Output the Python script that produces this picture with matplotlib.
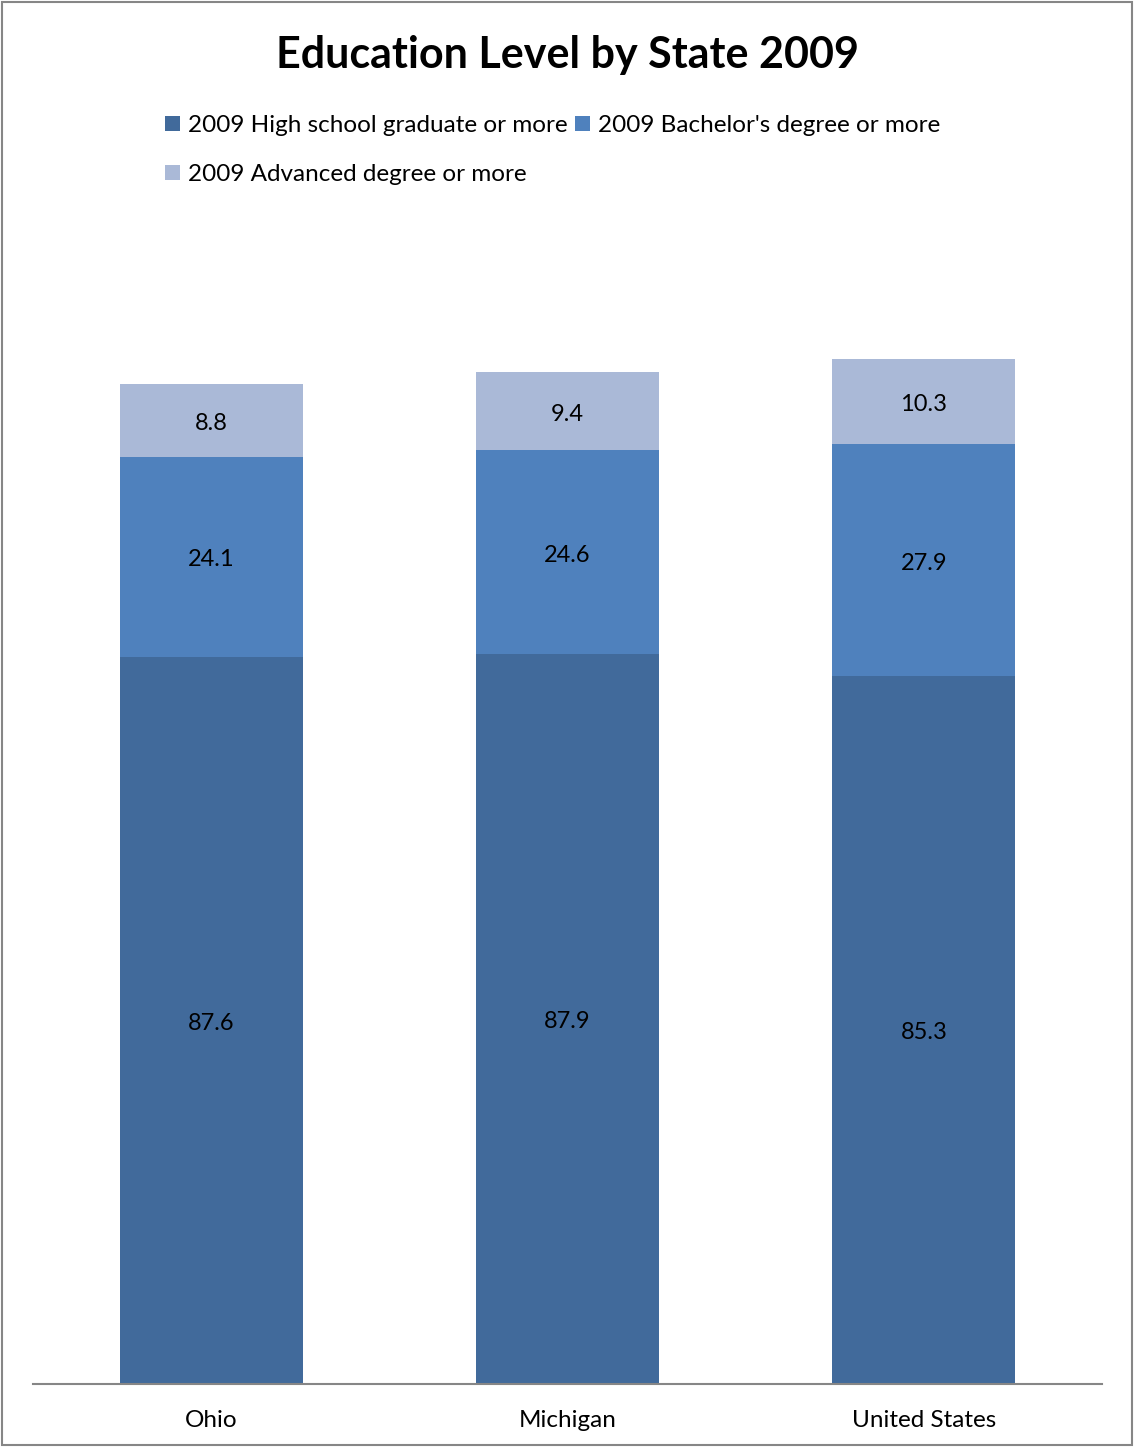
import matplotlib.pyplot as plt
import numpy as np
from matplotlib.patches import Rectangle

plt.rcParams['font.family'] = ['Lato', 'DejaVu Sans']

states = ['Ohio', 'Michigan', 'United States']
high_school = [87.6, 87.9, 85.3]
bachelors = [24.1, 24.6, 27.9]
advanced = [8.8, 9.4, 10.3]
series_names = ['2009 High school graduate or more',
                "2009 Bachelor's degree or more",
                '2009 Advanced degree or more']
colors = ['#416A9B', '#4F81BD', '#AAB9D7']

fig = plt.figure(figsize=(11.34, 14.47), dpi=100)
ax = fig.add_axes([33 / 1134, 63 / 1447, 1069 / 1134, 1162 / 1447])

x = np.arange(len(states))
bottom = np.zeros(len(states))
bars = []
for vals, name, col in zip([high_school, bachelors, advanced], series_names, colors):
    b = ax.bar(x, vals, width=0.513, bottom=bottom, color=col, label=name)
    ax.bar_label(b, labels=[f'{v:.1f}' for v in vals], label_type='center',
                 fontsize=17, color='black', padding=-2)
    bars.append(b)
    bottom += np.array(vals)

ax.set_xlim(-0.5, 2.5)
ax.set_ylim(0, 140)
ax.set_yticks([])
for s in ['top', 'right', 'left']:
    ax.spines[s].set_visible(False)
ax.spines['bottom'].set_color('#868686')
ax.spines['bottom'].set_linewidth(1.5)
ax.set_xticks(x)
ax.set_xticklabels(states, fontsize=17.5)
ax.tick_params(axis='x', length=0, pad=18.5)

fig.text(0.5, 1 - 55 / 1447, 'Education Level by State 2009', ha='center',
         va='center', fontsize=31, fontweight='bold')

# reorder so the first row holds the first two entries
h = [bars[0], bars[2], bars[1]]
l = [series_names[0], series_names[2], series_names[1]]
fig.legend(h, l, ncol=2, loc='upper left', bbox_to_anchor=(165 / 1134, 1 - 115 / 1447),
           frameon=False, fontsize=17.5, handlelength=0.6, handleheight=0.6,
           handletextpad=0.35, columnspacing=0.3, labelspacing=1.15, borderpad=0,
           borderaxespad=0)

fig.add_artist(Rectangle((2 / 1134, 2 / 1447), 1130 / 1134, 1443 / 1447,
                         transform=fig.transFigure, fill=False,
                         edgecolor='#868686', linewidth=1.5))

fig.savefig('out.png', dpi=100)
